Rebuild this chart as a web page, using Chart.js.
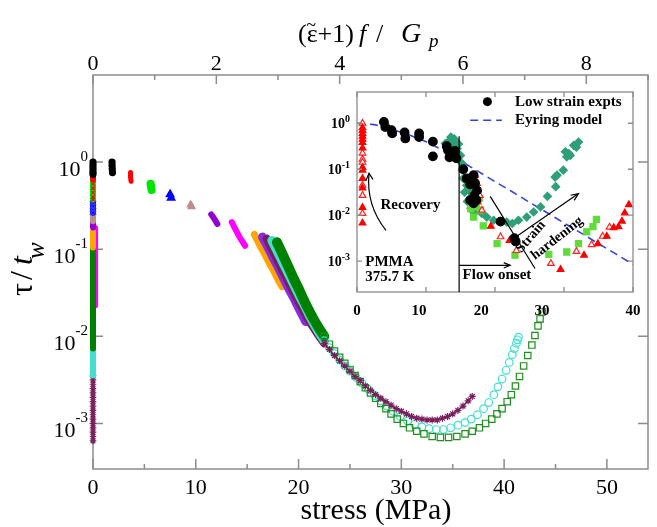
<!DOCTYPE html>
<html lang="en">
<head>
  <meta charset="UTF-8" />
  <title>Recovery time vs stress, PMMA</title>
  <script src="https://cdn.jsdelivr.net/npm/chart.js"></script>
  <style>
    body { margin: 0; background: #fff; }
    #wrap { position: relative; width: 657px; height: 527px; }
    #main { position: absolute; left: 0; top: 0; }
    #inset { position: absolute; left: 300px; top: 80px; }
  </style>
</head>
<body>
  <div id="wrap">
    <canvas id="main" width="657" height="527"></canvas>
    <canvas id="inset" width="350" height="240"></canvas>
  </div>

  <script>
    // ---- main plot: stress (MPa) vs log10(tau/tw) ----
    const stressTicks = [0, 5, 10, 15, 20, 25, 30, 35, 40, 45, 50];
    const stressLabels = [0, 10, 20, 30, 40, 50];
    const topTicks = [0, 1, 2, 3, 4, 5, 6, 7, 8, 9];
    const topLabels = [0, 2, 4, 6, 8];
    const tauDecades = [0, -1, -2, -3];

    // recovery column at zero stress
    const zeroBlackLog = [0, -0.03, -0.06, -0.09, -0.12, -0.14];
    const zeroRedLog = [-0.12, -0.15, -0.18, -0.2];
    const zeroLimeLog = [-0.2, -0.25, -0.3, -0.35, -0.4, -0.43];
    const zeroBlueLog = [-0.43, -0.47, -0.51, -0.55, -0.58];
    const zeroBrownLog = [-0.58, -0.63, -0.68];
    const zeroVioletLog = [-0.68, -0.72, -0.75];
    const zeroMagentaLog = [-0.75, -0.9, -1.05, -1.2, -1.35, -1.5, -1.65];
    const zeroOrangeLog = [-0.8, -0.86, -0.92, -0.98];
    const zeroGreenLog = [-1.0, -1.15, -1.3, -1.45, -1.6, -1.75, -1.9, -2.05, -2.14];
    const zeroCyanLog = [-2.14, -2.22, -2.3, -2.38, -2.45];
    const zeroMaroonLog = [-2.45, -2.5, -2.55, -2.6, -2.65, -2.7, -2.75, -2.8, -2.85, -2.9, -2.95, -3.0, -3.05, -3.1, -3.15, -3.2];

    // short runs at low stress
    const blackStress = [1.85, 1.85, 1.87, 1.9];
    const blackLog = [0, -0.04, -0.08, -0.12];
    const redStress = [3.65, 3.65, 3.7];
    const redLog = [-0.12, -0.17, -0.22];
    const limeStress = [5.6, 5.65, 5.7];
    const limeLog = [-0.25, -0.28, -0.32];
    const blueStress = [7.5, 7.6];
    const blueLog = [-0.37, -0.41];
    const brownStress = [9.5, 9.6];
    const brownLog = [-0.49, -0.51];
    const violetStress = [11.5, 11.8, 12.1];
    const violetLog = [-0.6, -0.65, -0.71];
    const magentaStress = [13.5, 13.9, 14.3, 14.8];
    const magentaLog = [-0.69, -0.78, -0.87, -0.96];
    const orangeStress = [15.7, 16.0, 16.3, 16.6, 16.9, 17.2, 17.5, 17.8, 18.1, 18.4];
    const orangeLog = [-0.83, -0.90, -0.97, -1.03, -1.10, -1.17, -1.23, -1.30, -1.37, -1.43];
    const purpleStress = [16.5, 17, 17.5, 18, 18.5, 19, 19.5, 20, 20.7];
    const purpleLog = [-0.86, -0.97, -1.09, -1.20, -1.32, -1.44, -1.55, -1.67, -1.83];

    // long runs: dense part + separated markers
    const maroonBandStress = [16.9, 17.5, 18, 18.5, 19, 19.5, 20, 20.5, 21, 21.5, 22, 22.5];
    const maroonBandLog = [-0.88, -1.02, -1.14, -1.26, -1.37, -1.49, -1.60, -1.71, -1.82, -1.91, -2.0, -2.08];
    const maroonStress = [22.5, 23, 23.5, 24, 24.5, 25, 25.5, 26, 26.5, 27, 27.5, 28, 28.5, 29, 29.5, 30, 30.5, 31, 31.5, 32, 32.5, 33, 33.5, 34, 34.5, 35, 35.5, 36, 36.5, 36.9];
    const maroonLog = [-2.08, -2.15, -2.22, -2.28, -2.34, -2.40, -2.46, -2.51, -2.57, -2.62, -2.67, -2.71, -2.75, -2.79, -2.83, -2.86, -2.89, -2.92, -2.94, -2.95, -2.96, -2.96, -2.96, -2.94, -2.92, -2.89, -2.85, -2.80, -2.74, -2.69];

    const cyanBandStress = [17.4, 18, 18.5, 19, 19.5, 20, 20.5, 21, 21.5, 22, 22.5];
    const cyanBandLog = [-0.90, -1.04, -1.16, -1.28, -1.40, -1.52, -1.63, -1.75, -1.86, -1.96, -2.05];
    const cyanStress = [22.5, 23, 23.5, 24, 24.5, 25, 25.6, 26.2, 26.8, 27.4, 28, 28.6, 29.2, 29.9, 30.6, 31.3, 32, 32.7, 33.4, 34.1, 34.8, 35.5, 36.2, 36.8, 37.4, 38, 38.5, 39, 39.4, 39.8, 40.2, 40.5, 40.8, 41.0, 41.2, 41.3, 41.4];
    const cyanLog = [-2.05, -2.13, -2.20, -2.27, -2.34, -2.40, -2.47, -2.54, -2.61, -2.68, -2.74, -2.80, -2.86, -2.92, -2.97, -3.01, -3.04, -3.06, -3.07, -3.07, -3.05, -3.02, -2.99, -2.95, -2.90, -2.83, -2.76, -2.67, -2.58, -2.49, -2.39, -2.30, -2.21, -2.14, -2.08, -2.04, -2.01];

    const greenBandStress = [17.9, 18.5, 19, 19.5, 20, 20.5, 21, 21.5, 22, 22.5];
    const greenBandLog = [-0.92, -1.07, -1.20, -1.33, -1.45, -1.58, -1.70, -1.81, -1.91, -2.0];
    const greenStress = [22.5, 23, 23.5, 24, 24.5, 25, 25.5, 26, 26.5, 27, 27.5, 28, 28.5, 29, 29.6, 30.2, 30.8, 31.5, 32.2, 33.0, 33.8, 34.6, 35.4, 36.2, 36.9, 37.6, 38.2, 38.8, 39.3, 39.8, 40.3, 40.7, 41.1, 41.5, 41.9, 42.3, 42.7, 43.0, 43.3, 43.5, 43.7];
    const greenLog = [-2.0, -2.09, -2.17, -2.24, -2.31, -2.38, -2.45, -2.52, -2.59, -2.65, -2.71, -2.77, -2.83, -2.89, -2.95, -3.0, -3.05, -3.09, -3.12, -3.15, -3.16, -3.16, -3.15, -3.12, -3.09, -3.05, -3.0, -2.95, -2.89, -2.83, -2.75, -2.67, -2.57, -2.46, -2.34, -2.22, -2.1, -1.99, -1.88, -1.8, -1.72];

    // ---- inset: PMMA 375.7 K ----
    const insetXTicks = [0, 10, 20, 30, 40];
    const insetXLabelPos = [0, 9, 18, 26.8, 40];
    const insetXLabels = ['0', '10', '20', '30', '40'];
    const insetDecades = [0, -1, -2, -3];

    const recoveryStress = 0.8;
    const recFilledLog = [-0.1, -0.16, -0.22, -0.28, -0.35, -0.42, -0.54, -0.96, -1.02, -1.2, -1.41, -1.83, -2.17];
    const recOpenLog = [0, -0.65, -0.78, -0.85, -1.35, -1.57, -1.96];

    const lowStress = [3.9, 4.1, 5.0, 5.1, 6.9, 7.0, 9.0, 9.0, 11, 11, 13, 13.2, 13.6, 13.4, 14.2, 14.4, 15.4, 15.9, 16.9, 17.1, 17.4, 16.4, 17.0, 17.3, 16.9, 16.4, 20.8, 22.8, 23.0];
    const lowLog = [0.03, -0.08, -0.15, -0.22, -0.2, -0.33, -0.22, -0.3, -0.4, -0.72, -0.5, -0.59, -0.7, -0.74, -0.6, -0.76, -1.0, -1.2, -1.13, -1.3, -1.46, -1.33, -1.57, -1.67, -1.74, -1.67, -2.14, -2.5, -2.57];

    const tealStress = [12.8, 13.4, 13.8, 14.1, 14.3, 14.5, 14.2, 14.7, 15.0, 15.2, 13.6, 14.0, 15.4, 15.9, 16.2, 16.7, 16.9, 17.4, 18.1, 18.8, 19.8, 20.8, 21.7, 15.6, 16.0, 16.5, 17.0, 22.5, 23.4, 24.6, 25.6, 26.6, 27.6, 28.7, 29.0, 28.8, 29.9, 30.2, 30.4, 30.7, 30.9, 31.4, 32.1, 31.8];
    const tealLog = [-0.44, -0.38, -0.44, -0.34, -0.5, -0.55, -0.62, -0.45, -0.7, -0.87, -0.3, -0.55, -1.2, -1.35, -1.46, -1.6, -1.75, -1.86, -1.96, -2.04, -2.11, -2.14, -2.15, -1.5, -1.7, -1.85, -1.95, -2.18, -2.11, -2.04, -1.93, -1.82, -1.59, -1.17, -1.13, -1.38, -1.02, -0.62, -0.73, -0.66, -0.7, -0.48, -0.41, -0.52];

    const limeInStress = [16.4, 16.6, 17.3, 16.9, 17.9, 16.5, 17.7, 18.3, 20.3, 22.9, 27.8, 30.4, 32.1, 33.3, 34.2, 34.7];
    const limeInLog = [-1.35, -1.64, -1.82, -2.04, -1.89, -1.86, -1.64, -2.23, -2.62, -2.87, -2.85, -2.8, -2.62, -2.36, -2.25, -2.09];

    const redFStress = [17.1, 19.4, 22.1, 29.5, 32.9, 34.9, 36.2, 37.2, 37.9, 38.4, 38.8, 39.4];
    const redFLog = [-1.13, -2.24, -2.55, -3.18, -2.87, -2.62, -2.46, -2.27, -2.25, -2.13, -1.95, -1.77];
    const redOStress = [17.4, 17.8, 18.1, 17.5, 20.8, 23.1, 28.1, 31.8, 34.0, 35.6, 36.6];
    const redOLog = [-1.31, -1.57, -1.89, -1.71, -2.47, -2.77, -3.05, -2.79, -2.64, -2.46, -2.26];

    const eyringStress = [0, 2.5, 5, 7.5, 10, 12.5, 15, 17.5, 20, 22.5, 25, 27.5, 30, 32.5, 35, 37.5, 40];
    const eyringLog = [0, -0.03, -0.13, -0.25, -0.4, -0.59, -0.82, -1.04, -1.27, -1.49, -1.72, -1.94, -2.17, -2.39, -2.62, -2.84, -3.07];

    const flowOnsetStress = 14.8;

    // ---- helpers ----
    const SERIF = '"Liberation Serif", "Times New Roman", serif';
    const pts = (xs, logs) => xs.map((x, i) => ({ x: x, y: Math.pow(10, logs[i]) }));
    const col = (logs, x) => logs.map(l => ({ x: x, y: Math.pow(10, l) }));

    function band(data, color, w) {
      return { data, showLine: true, borderColor: color, borderWidth: w, pointRadius: 0,
               borderCapStyle: 'round', borderJoinStyle: 'round', clip: false };
    }
    function marks(data, color, style, r, fill) {
      return { data, showLine: false, pointStyle: style, pointRadius: r,
               pointBorderColor: color, pointBackgroundColor: fill || color,
               pointBorderWidth: 1.2, clip: false };
    }

    function drawPow(ctx, exp, xRight, yTick, size, bold, baseDy, expDy) {
      const b = bold ? 'bold ' : '';
      const f1 = b + size + 'px ' + SERIF;
      const f2 = b + Math.round(size * 0.68) + 'px ' + SERIF;
      ctx.font = f2;
      const we = ctx.measureText(exp).width;
      ctx.font = f1;
      const wb = ctx.measureText('10').width;
      const x0 = xRight - we - wb;
      ctx.textAlign = 'left';
      ctx.textBaseline = 'alphabetic';
      ctx.fillText('10', x0, yTick + baseDy);
      ctx.font = f2;
      ctx.fillText(exp, x0 + wb, yTick + baseDy - expDy);
    }

    function arrow(ctx, x0, y0, x1, y1, head) {
      ctx.beginPath();
      ctx.moveTo(x0, y0);
      ctx.lineTo(x1, y1);
      ctx.stroke();
      const a = Math.atan2(y1 - y0, x1 - x0);
      ctx.beginPath();
      ctx.moveTo(x1 - head * Math.cos(a - 0.4), y1 - head * Math.sin(a - 0.4));
      ctx.lineTo(x1, y1);
      ctx.lineTo(x1 - head * Math.cos(a + 0.4), y1 - head * Math.sin(a + 0.4));
      ctx.stroke();
    }

    // ---- main datasets, listed bottom to top ----
    const C = {
      black: '#000000', red: '#ff0000', lime: '#00e600', blue: '#0000ff',
      brown: '#bc8f8f', violet: '#9400d3', magenta: '#ff00ff', orange: '#ffa500',
      purple: '#8a2be2', green: '#008000', cyan: '#40e0d0', maroon: '#7b1e5c'
    };

    const mainSets = [
      band(col(zeroMaroonLog, 0), '#9a5a86', 3),
      marks(col(zeroMaroonLog, 0), C.maroon, 'star', 3.3),
      band(col(zeroCyanLog, 0), C.cyan, 6),
      band(col(zeroMagentaLog, 0.25), C.magenta, 5),
      band(col(zeroGreenLog, 0), C.green, 6),
      band(col(zeroOrangeLog, 0), C.orange, 6),
      band(col(zeroVioletLog, 0), C.violet, 6),
      band(col(zeroBrownLog, 0), C.brown, 6),
      band(col(zeroBlueLog, 0), C.blue, 6),
      marks(col(zeroBlueLog, 0), '#3333ff', 'triangle', 3, 'rgba(0,0,0,0)'),
      band(col(zeroLimeLog, 0), C.lime, 6),
      marks(col(zeroLimeLog, 0), C.red, 'crossRot', 2.5),
      band(col(zeroRedLog, 0), C.red, 6),
      band(col(zeroBlackLog, 0), C.black, 6),
      marks(col(zeroBlackLog, 0), C.black, 'circle', 3),

      band(pts(blackStress, blackLog), C.black, 6),
      marks(pts(blackStress, blackLog), C.black, 'circle', 3),
      band(pts(redStress, redLog), C.red, 5),
      band(pts(limeStress, limeLog), C.lime, 6),
      marks(pts(limeStress, limeLog), C.lime, 'circle', 3.5),
      marks(pts(blueStress, blueLog), C.blue, 'triangle', 4.5),
      marks(pts(brownStress, brownLog), C.brown, 'triangle', 4, C.brown),
      band(pts(violetStress, violetLog), C.violet, 6),
      band(pts(magentaStress, magentaLog), C.magenta, 6),

      band(pts(orangeStress, orangeLog), C.orange, 7),
      band(pts(purpleStress, purpleLog), C.purple, 9),
      band(pts(maroonBandStress, maroonBandLog), C.maroon, 8),
      band(pts(cyanBandStress, cyanBandLog), C.cyan, 9),
      band(pts(greenBandStress, greenBandLog), C.green, 10),
      marks(pts(cyanStress, cyanLog), C.cyan, 'circle', 3.8, 'rgba(0,0,0,0)'),
      marks(pts(greenStress, greenLog), '#1f8f1f', 'rect', 4.5, 'rgba(0,0,0,0)'),
      band(pts(maroonStress, maroonLog), C.maroon, 1.5),
      marks(pts(maroonStress, maroonLog), C.maroon, 'star', 3.5)
    ];
    mainSets.forEach((d, i) => { d.order = -i; });

    const mainAxes = {
      id: 'mainAxes',
      beforeDatasetsDraw(chart) {
        const { ctx, chartArea: a } = chart;
        const { x, x2, y } = chart.scales;
        ctx.save();
        ctx.strokeStyle = '#8c8c8c';
        ctx.lineWidth = 1.5;
        ctx.strokeRect(a.left, a.top, a.right - a.left, a.bottom - a.top);
        ctx.beginPath();
        stressTicks.forEach(v => {
          const px = x.getPixelForValue(v), len = v % 10 === 0 ? 10 : 5;
          ctx.moveTo(px, a.bottom); ctx.lineTo(px, a.bottom - len);
        });
        topTicks.forEach(v => {
          const px = x2.getPixelForValue(v), len = v % 2 === 0 ? 9 : 5;
          ctx.moveTo(px, a.top); ctx.lineTo(px, a.top + len);
        });
        tauDecades.forEach(e => {
          const py = y.getPixelForValue(Math.pow(10, e));
          ctx.moveTo(a.left, py); ctx.lineTo(a.left + 10, py);
          ctx.moveTo(a.right, py); ctx.lineTo(a.right - 10, py);
        });
        ctx.stroke();
        ctx.restore();
      },
      afterDraw(chart) {
        const { ctx } = chart;
        const { x, x2, y } = chart.scales;
        ctx.save();
        ctx.fillStyle = '#000';
        ctx.font = '22px ' + SERIF;
        ctx.textAlign = 'center';
        ctx.textBaseline = 'alphabetic';
        stressLabels.forEach(v => ctx.fillText(String(v), x.getPixelForValue(v), 494));
        topLabels.forEach(v => ctx.fillText(String(v), x2.getPixelForValue(v), 70));
        tauDecades.forEach(e => drawPow(ctx, String(e), 88, y.getPixelForValue(Math.pow(10, e)), 22, false, 14, 15));

        // bottom title
        ctx.font = '30px ' + SERIF;
        ctx.textAlign = 'center';
        ctx.fillText('stress (MPa)', 376, 519);

        // top title: (ε̃+1) f / G_p
        ctx.textAlign = 'left';
        ctx.font = '26px ' + SERIF;
        ctx.fillText('(\u03b5+1)', 298, 42);
        ctx.font = '18px ' + SERIF;
        ctx.textAlign = 'center';
        ctx.fillText('~', 311, 31);
        ctx.textAlign = 'left';
        ctx.font = 'italic 26px ' + SERIF;
        ctx.fillText('f', 359, 42);
        ctx.font = '26px ' + SERIF;
        ctx.fillText('/', 376, 42);
        ctx.font = 'italic 28px ' + SERIF;
        ctx.fillText('G', 401, 42);
        ctx.font = 'italic 19px ' + SERIF;
        ctx.fillText('p', 429, 47);

        // y title: tau / t_w (rotated)
        ctx.translate(32, 296);
        ctx.rotate(-Math.PI / 2);
        ctx.font = '32px ' + SERIF;
        ctx.fillText('\u03c4', 0, 0);
        ctx.fillText('/', 16, 0);
        ctx.font = 'italic 32px ' + SERIF;
        ctx.fillText('t', 31, 0);
        ctx.font = 'italic 25px ' + SERIF;
        ctx.fillText('w', 37, 12);
        ctx.restore();
      }
    };

    new Chart(document.getElementById('main'), {
      type: 'scatter',
      data: { datasets: mainSets },
      options: {
        responsive: false,
        animation: false,
        events: [],
        layout: { padding: { left: 93, right: 9, top: 75, bottom: 58 } },
        scales: {
          x: { type: 'linear', min: 0, max: 54, display: false },
          x2: { type: 'linear', position: 'top', min: 0, max: 9, display: false },
          y: { type: 'logarithmic', min: Math.pow(10, -3.5), max: 10, display: false }
        },
        plugins: { legend: { display: false }, tooltip: { enabled: false } }
      },
      plugins: [mainAxes]
    });

    // ---- inset ----
    const insetSets = [
      { data: pts(eyringStress, eyringLog), showLine: true, borderColor: '#3344dd', borderWidth: 1.6,
        borderDash: [8, 5], pointRadius: 0 },
      marks(pts(tealStress, tealLog), '#2f9f78', 'rectRot', 4),
      marks(pts(limeInStress, limeInLog), '#5fdc3a', 'rect', 4.3),
      marks(pts(redOStress, redOLog), '#ff2020', 'triangle', 3.8, '#ffffff'),
      marks(col(recOpenLog, recoveryStress), '#ff2020', 'triangle', 3.8, '#ffffff'),
      marks(pts(redFStress, redFLog), '#ff0000', 'triangle', 3.8),
      marks(col(recFilledLog, recoveryStress), '#ff0000', 'triangle', 3.8),
      marks(pts(lowStress, lowLog), '#000000', 'circle', 4.3)
    ];
    insetSets.forEach((d, i) => { d.order = -i; d.clip = 0; });

    const insetDecor = {
      id: 'insetDecor',
      beforeDraw(chart) {
        const { ctx, chartArea: a } = chart;
        ctx.save();
        ctx.fillStyle = '#fff';
        ctx.fillRect(a.left, a.top, a.right - a.left, a.bottom - a.top);
        ctx.restore();
      },
      afterDatasetsDraw(chart) {
        const { ctx, chartArea: a } = chart;
        const { x, y } = chart.scales;
        const X = v => x.getPixelForValue(v);
        const Y = l => y.getPixelForValue(Math.pow(10, l));
        ctx.save();
        ctx.strokeStyle = '#8c8c8c';
        ctx.lineWidth = 1.3;
        ctx.strokeRect(a.left, a.top, a.right - a.left, a.bottom - a.top);
        ctx.beginPath();
        insetXTicks.forEach(v => {
          ctx.moveTo(X(v), a.bottom); ctx.lineTo(X(v), a.bottom - 5);
          ctx.moveTo(X(v), a.top); ctx.lineTo(X(v), a.top + 5);
        });
        insetDecades.forEach(e => {
          ctx.moveTo(a.left, Y(e)); ctx.lineTo(a.left + 5, Y(e));
          ctx.moveTo(a.right, Y(e)); ctx.lineTo(a.right - 5, Y(e));
        });
        ctx.stroke();

        ctx.fillStyle = '#000';
        ctx.font = 'bold 15px ' + SERIF;
        ctx.textAlign = 'center';
        ctx.textBaseline = 'alphabetic';
        insetXLabels.forEach((s, i) => ctx.fillText(s, X(insetXLabelPos[i]), 235));
        insetDecades.forEach(e => drawPow(ctx, String(e), 50, Y(e), 14, true, 5, 6));

        // flow onset line, arrows and notes
        ctx.strokeStyle = '#000';
        ctx.lineWidth = 1.2;
        ctx.beginPath();
        ctx.moveTo(X(flowOnsetStress), Y(-0.28));
        ctx.lineTo(X(flowOnsetStress), a.bottom);
        ctx.stroke();
        arrow(ctx, X(flowOnsetStress), Y(-3.09), X(22.2), Y(-3.09), 7);
        arrow(ctx, X(22.65), Y(-2.51), X(32.1), Y(-1.53), 8);
        ctx.beginPath();
        ctx.moveTo(X(19.3), Y(-1.59));
        ctx.lineTo(X(25.8), Y(-3.16));
        ctx.stroke();
        // recovery curved arrow
        ctx.beginPath();
        ctx.moveTo(X(4.2), Y(-2.33));
        ctx.quadraticCurveTo(X(1.29), Y(-1.78), X(1.74), Y(-1.09));
        ctx.stroke();
        ctx.beginPath();
        ctx.moveTo(X(1.74) - 3, Y(-1.09) + 7);
        ctx.lineTo(X(1.74), Y(-1.09));
        ctx.lineTo(X(1.74) + 4, Y(-1.09) + 6);
        ctx.stroke();

        ctx.font = 'bold 15px ' + SERIF;
        ctx.textAlign = 'left';
        ctx.textBaseline = 'middle';
        ctx.fillText('Recovery', X(3.4), Y(-1.78));
        ctx.fillText('PMMA', X(1.2), Y(-3.01));
        ctx.fillText('375.7 K', X(1.2), Y(-3.34));
        ctx.fillText('Flow onset', X(15.3), Y(-3.3));
        ctx.font = 'bold 14px ' + SERIF;
        ctx.textAlign = 'center';
        [['Strain', 25.2, -2.47, -0.85], ['hardening', 29.0, -2.5, -0.66]].forEach(([s, sx, sl, ang]) => {
          ctx.save();
          ctx.translate(X(sx), Y(sl));
          ctx.rotate(ang);
          ctx.fillText(s, 0, 0);
          ctx.restore();
        });

        // legend
        ctx.beginPath();
        ctx.arc(X(18.9), Y(0.47), 4.5, 0, Math.PI * 2);
        ctx.fill();
        ctx.strokeStyle = '#3344dd';
        ctx.lineWidth = 1.6;
        ctx.setLineDash([8, 5]);
        ctx.beginPath();
        ctx.moveTo(X(16.4), Y(0.065));
        ctx.lineTo(X(21.0), Y(0.065));
        ctx.stroke();
        ctx.setLineDash([]);
        ctx.font = 'bold 15px ' + SERIF;
        ctx.textAlign = 'left';
        ctx.fillText('Low strain expts', X(22.9), Y(0.46));
        ctx.fillText('Eyring model', X(22.9), Y(0.065));
        ctx.restore();
      }
    };

    new Chart(document.getElementById('inset'), {
      type: 'scatter',
      data: { datasets: insetSets },
      options: {
        responsive: false,
        animation: false,
        events: [],
        layout: { padding: { left: 57, right: 17, top: 12, bottom: 28 } },
        scales: {
          x: { type: 'linear', min: 0, max: 40, display: false },
          y: { type: 'logarithmic', min: Math.pow(10, -3.67), max: Math.pow(10, 0.68), display: false }
        },
        plugins: { legend: { display: false }, tooltip: { enabled: false } }
      },
      plugins: [insetDecor]
    });
  </script>
</body>
</html>
